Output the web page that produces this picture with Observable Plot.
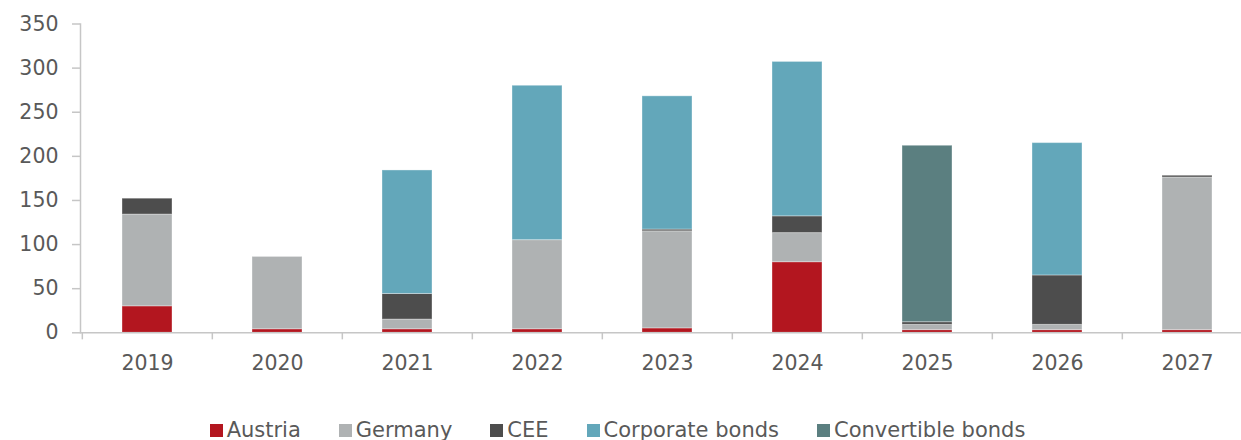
<!DOCTYPE html>
<html><head><meta charset="utf-8">
<script src="https://cdn.jsdelivr.net/npm/d3@7"></script>
<script src="https://cdn.jsdelivr.net/npm/@observablehq/plot@0.6"></script>
<style>
html,body{margin:0;padding:0;background:#fff;overflow:hidden;width:1241px;height:440px;}
#chart{position:relative;width:1241px;height:440px;font-family:"DejaVu Sans",Verdana,sans-serif;}
#legend{position:absolute;left:0;top:418px;width:1235px;display:flex;justify-content:center;font-size:21px;line-height:24px;color:#595959;}
.item{display:flex;align-items:flex-start;margin:0 19px;white-space:nowrap}
.sw{width:13px;height:13px;margin-right:4px;margin-top:6px;display:inline-block}
</style></head><body><div id="chart"></div>
<script>
const years = ["2019","2020","2021","2022","2023","2024","2025","2026","2027"];
const series = ["Austria","Germany","CEE","Corporate bonds","Convertible bonds"];
const colors = ["#b3161f","#afb2b3","#4d4d4d","#63a7ba","#5b7f80"];
const austria     = [30, 4, 4, 4, 5, 80, 3, 3, 3];
const germany     = [104, 82, 11, 101, 110, 33, 6, 6, 173];
const cee         = [18, 0, 29, 0, 2, 19, 3, 56, 2];
const corporate   = [0, 0, 140, 175, 151, 175, 0, 150, 0];
const convertible = [0, 0, 0, 0, 0, 0, 200, 0, 0];
const yTicks = [0, 50, 100, 150, 200, 250, 300, 350];

const values = [austria, germany, cee, corporate, convertible];
const rows = [];
series.forEach((s, i) => years.forEach((y, j) => rows.push({year: y, series: s, value: values[i][j]})));

const W = 1241, H = 400;
const xRange = [80, 1253];
const step = (xRange[1] - xRange[0]) / years.length;
const axisColor = "#c6c6c6";

const chart = Plot.plot({
  width: W, height: H,
  marginLeft: 80, marginRight: 0, marginTop: 23.5, marginBottom: 67.7,
  style: {fontFamily: '"DejaVu Sans", Verdana, sans-serif', fontSize: "20.5px", color: "#595959", background: "white", overflow: "visible"},
  x: {domain: years, range: xRange, paddingInner: 0.616, paddingOuter: 0.308, axis: null},
  y: {domain: [0, 350], axis: null},
  color: {domain: series, range: colors},
  marks: [
    Plot.barY(rows, {x: "year", y: "value", fill: "series", stroke: "white", strokeOpacity: 0.35, strokeWidth: 1}),
    Plot.frame({anchor: "left", stroke: axisColor, strokeWidth: 1.5}),
    Plot.ruleY([0], {stroke: axisColor, strokeWidth: 1.5}),
    Plot.ruleX(years, {x: d => d, dx: -step / 2, y1: 0, y2: -8, stroke: axisColor, strokeWidth: 1.5}),
    Plot.axisY({ticks: yTicks, label: null, tickSize: 8, tickPadding: 14, stroke: axisColor, strokeWidth: 1.5, fill: "#595959", fontSize: 20.5, tickFormat: d => String(d)}),
    Plot.axisX({label: null, tickSize: 0, tickPadding: 23, fill: "#595959", fontSize: 20.5})
  ]
});
document.getElementById("chart").appendChild(chart);

const legend = document.createElement("div");
legend.id = "legend";
series.forEach((s, i) => {
  const it = document.createElement("span");
  it.className = "item";
  const sw = document.createElement("span");
  sw.className = "sw";
  sw.style.background = colors[i];
  it.appendChild(sw);
  it.appendChild(document.createTextNode(s));
  legend.appendChild(it);
});
document.getElementById("chart").appendChild(legend);
</script></body></html>
